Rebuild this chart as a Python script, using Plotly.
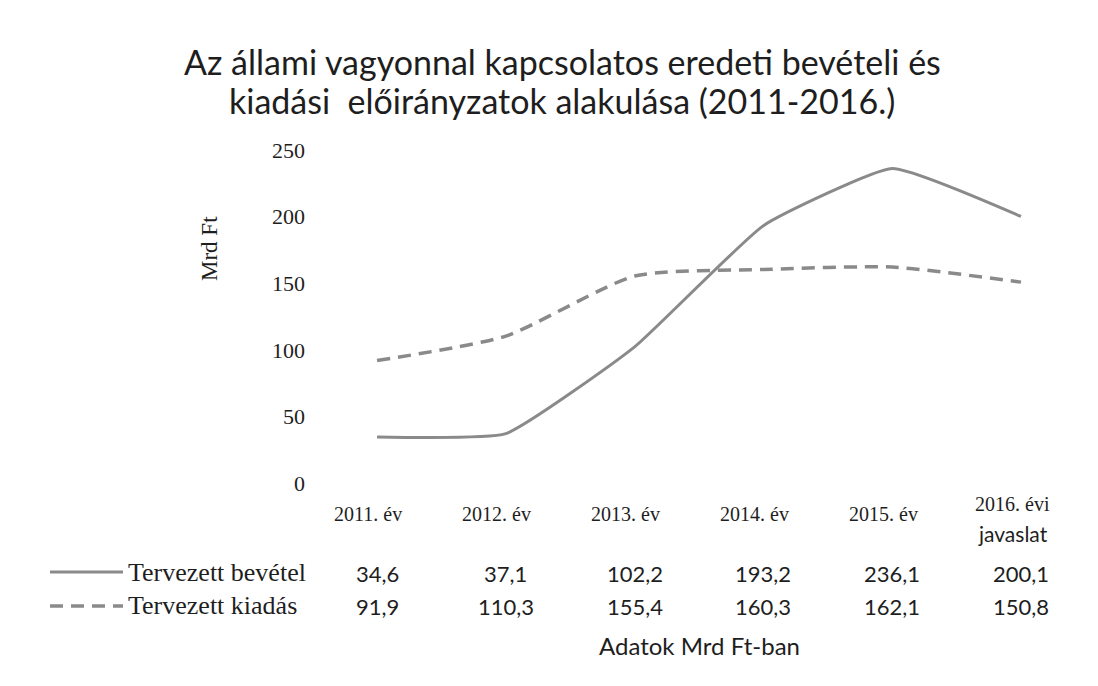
import plotly.graph_objects as go

# ---- data ----
categories = ["2011. év", "2012. év", "2013. év", "2014. év", "2015. év", "2016. évi<br>javaslat"]
bevetel = [34.6, 37.1, 102.2, 193.2, 236.1, 200.1]
kiadas = [91.9, 110.3, 155.4, 160.3, 162.1, 150.8]
series_names = ["Tervezett bevétel", "Tervezett kiadás"]
y_ticks = [0, 50, 100, 150, 200, 250]
title_lines = ["Az állami vagyonnal kapcsolatos eredeti bevételi és",
               "kiadási  előirányzatok alakulása (2011-2016.)"]

# page body has an 8px margin; figure is sized to fit inside the window
OFF = 8
W, H = 1098 - 2 * OFF, 686 - 2 * OFF
# plot area in screen pixels
SX0, SX1, SY0, SY1 = 312, 1068, 150, 483
L, T = SX0 - OFF, SY0 - OFF
PW, PH = SX1 - SX0, SY1 - SY0
R, B = W - L - PW, H - T - PH

def px(x):
    return (x - SX0) / PW

def py(y):
    return (SY1 - y) / PH

SERIF = "Liberation Serif"
SANS = "Lato"
LINE_COLOR = "#8a8a8a"
TXT = "#1e1e1e"

idx = list(range(len(categories)))

fig = go.Figure()
fig.add_trace(go.Scatter(x=idx, y=bevetel, mode="lines", name=series_names[0],
                         line=dict(color=LINE_COLOR, width=3, shape="spline", smoothing=0.4),
                         showlegend=False))
fig.add_trace(go.Scatter(x=idx, y=kiadas, mode="lines", name=series_names[1],
                         line=dict(color=LINE_COLOR, width=3.5, dash="13px,8px", shape="spline", smoothing=0.6),
                         showlegend=False))

annotations = []
# title
for ty, line in zip((62, 100), title_lines):
    annotations.append(dict(x=px(562), xref="paper", y=py(ty), yref="paper", text=line, showarrow=False,
                            xanchor="center", yanchor="middle", font=dict(family=SANS, size=34, color=TXT)))

# table header (category labels)
for i, c in enumerate(categories):
    if "<br>" in c:
        top, bot = c.split("<br>")
        annotations.append(dict(x=i, xref="x", xshift=-8, y=py(504), yref="paper", text=top, showarrow=False,
                                xanchor="center", yanchor="middle", font=dict(family=SERIF, size=20, color=TXT)))
        annotations.append(dict(x=i, xref="x", xshift=-8, y=py(533), yref="paper", text=bot, showarrow=False,
                                xanchor="center", yanchor="middle", font=dict(family=SANS, size=21, color=TXT)))
    else:
        annotations.append(dict(x=i, xref="x", xshift=-9, y=py(514), yref="paper", text=c, showarrow=False,
                                xanchor="center", yanchor="middle", font=dict(family=SERIF, size=20, color=TXT)))

def fmt(v):
    return f"{v:.1f}".replace(".", ",")

for row_y, vals in ((573, bevetel), (606, kiadas)):
    for i, v in enumerate(vals):
        annotations.append(dict(x=i, xref="x", y=py(row_y), yref="paper", text=fmt(v), showarrow=False,
                                xanchor="center", yanchor="middle", font=dict(family=SANS, size=22, color=TXT)))

# row labels
for row_y, name in ((572, series_names[0]), (605, series_names[1])):
    annotations.append(dict(x=px(126), xref="paper", xanchor="left", yanchor="middle", y=py(row_y), yref="paper",
                            text=name, showarrow=False, font=dict(family=SERIF, size=26, color=TXT)))

# axis note and y title
annotations.append(dict(x=px(699), xref="paper", y=py(645), yref="paper", text="Adatok Mrd Ft-ban",
                        xanchor="center", yanchor="middle",
                        showarrow=False, font=dict(family=SANS, size=24, color=TXT)))
annotations.append(dict(x=px(209), xref="paper", y=py(249), yref="paper", text="Mrd Ft", textangle=-90,
                        xanchor="center", yanchor="middle",
                        showarrow=False, font=dict(family=SERIF, size=23, color=TXT)))

shapes = [
    dict(type="line", xref="paper", yref="paper", x0=px(50), x1=px(123), y0=py(572), y1=py(572),
         line=dict(color=LINE_COLOR, width=3)),
    dict(type="line", xref="paper", yref="paper", x0=px(50), x1=px(123), y0=py(606), y1=py(606),
         line=dict(color=LINE_COLOR, width=3.5, dash="13px,8px")),
]

fig.update_layout(
    width=W, height=H,
    margin=dict(l=L, r=R, t=T, b=B),
    paper_bgcolor="white", plot_bgcolor="white",
    xaxis=dict(range=[-0.505, 5.365], showticklabels=False, showgrid=False, zeroline=False,
               showline=False, fixedrange=True),
    yaxis=dict(range=[0, 250], tickvals=y_ticks, showgrid=False, zeroline=False, showline=False,
               tickfont=dict(family=SERIF, size=22, color=TXT), ticklabelstandoff=6),
    annotations=annotations,
    shapes=shapes,
    showlegend=False,
)

fig.write_html("out.html")
